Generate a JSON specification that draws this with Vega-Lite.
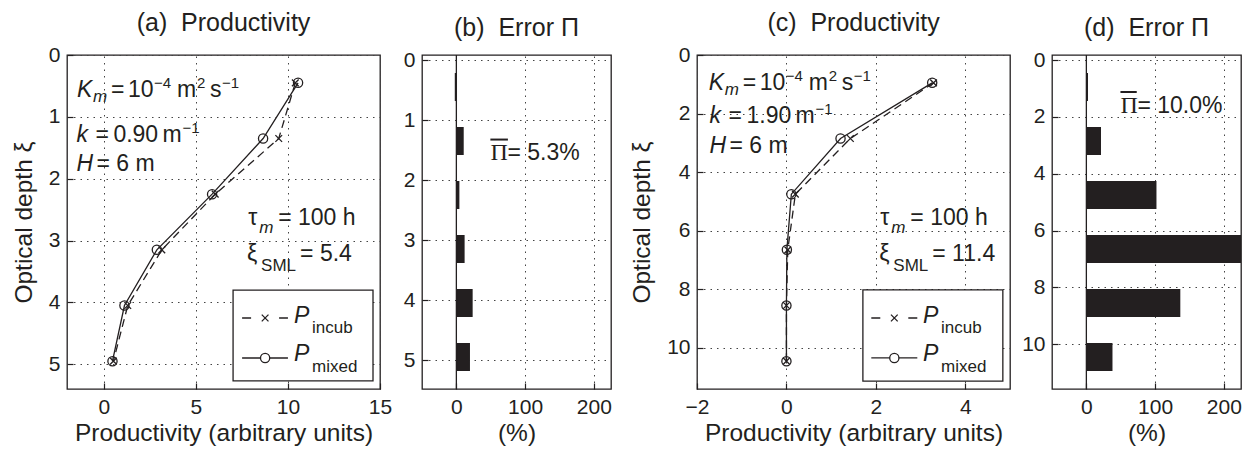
{
  "$schema": "https://vega.github.io/schema/vega-lite/v6.json",
  "padding": {"left": 10, "top": 10, "right": 0, "bottom": 0},
  "background": "white",
  "datasets": {
    "prod_a": [
      {"xi": 0.45, "P_incub": 10.4, "P_mixed": 10.55},
      {"xi": 1.35, "P_incub": 9.5, "P_mixed": 8.65},
      {"xi": 2.25, "P_incub": 6.05, "P_mixed": 5.88},
      {"xi": 3.15, "P_incub": 3.15, "P_mixed": 2.88},
      {"xi": 4.05, "P_incub": 1.3, "P_mixed": 1.12},
      {"xi": 4.95, "P_incub": 0.52, "P_mixed": 0.47}
    ],
    "err_a": [
      {"xi": 0.45, "err": -2.3},
      {"xi": 1.35, "err": 10.7},
      {"xi": 2.25, "err": 4.4},
      {"xi": 3.15, "err": 12},
      {"xi": 4.05, "err": 23.7},
      {"xi": 4.95, "err": 19.8}
    ],
    "prod_c": [
      {"xi": 0.95, "P_incub": 3.29, "P_mixed": 3.26},
      {"xi": 2.85, "P_incub": 1.43, "P_mixed": 1.21},
      {"xi": 4.75, "P_incub": 0.2, "P_mixed": 0.11},
      {"xi": 6.65, "P_incub": 0.03, "P_mixed": 0.01},
      {"xi": 8.55, "P_incub": 0.0, "P_mixed": 0.0},
      {"xi": 10.45, "P_incub": 0.0, "P_mixed": 0.0}
    ],
    "err_c": [
      {"xi": 0.95, "err": 2.4},
      {"xi": 2.85, "err": 21.3},
      {"xi": 4.75, "err": 102},
      {"xi": 6.65, "err": 240},
      {"xi": 8.55, "err": 136.7},
      {"xi": 10.45, "err": 38}
    ]
  },
  "bounds": "flush",
  "spacing": 42,
  "hconcat": [
    {
      "title": {"text": "(a)\u00a0 Productivity"},
      "width": 313,
      "height": 334,
      "data": {"name": "prod_a"},
      "layer": [
        {
          "mark": {"type": "line", "color": "#231f20", "strokeWidth": 1.3, "strokeDash": [8, 5]},
          "encoding": {
            "x": {"field": "P_incub", "type": "quantitative", "title": "Productivity (arbitrary units)", "scale": {"domain": [-2, 15], "nice": false, "zero": false}, "axis": {"values": [0, 5, 10, 15], "format": "d"}},
            "y": {"field": "xi", "type": "quantitative", "title": "Optical depth ξ", "scale": {"domain": [0, 5.4], "reverse": true, "nice": false, "zero": false}, "axis": {"values": [0, 1, 2, 3, 4, 5], "format": "d"}},
            "order": {"field": "xi"}
          }
        },
        {
          "mark": {"type": "point", "shape": "M-1,-1L1,1M-1,1L1,-1", "size": 45, "filled": false, "color": "#231f20", "strokeWidth": 1.3, "opacity": 1},
          "encoding": {
            "x": {"field": "P_incub", "type": "quantitative", "title": "Productivity (arbitrary units)"},
            "y": {"field": "xi", "type": "quantitative", "title": "Optical depth ξ"}
          }
        },
        {
          "mark": {"type": "line", "color": "#231f20", "strokeWidth": 1.3},
          "encoding": {
            "x": {"field": "P_mixed", "type": "quantitative", "title": "Productivity (arbitrary units)"},
            "y": {"field": "xi", "type": "quantitative", "title": "Optical depth ξ"},
            "order": {"field": "xi"}
          }
        },
        {
          "mark": {"type": "point", "shape": "circle", "size": 85, "filled": false, "color": "#231f20", "strokeWidth": 1.3, "opacity": 1},
          "encoding": {
            "x": {"field": "P_mixed", "type": "quantitative", "title": "Productivity (arbitrary units)"},
            "y": {"field": "xi", "type": "quantitative", "title": "Optical depth ξ"}
          }
        },
        {
          "data": {"values": [{}]},
          "layer": [
            {"mark": {"type": "text", "text": "K", "fontStyle": "italic", "fontSize": 23, "align": "left", "baseline": "alphabetic", "color": "#231f20"}, "encoding": {"x": {"datum": -1.46}, "y": {"datum": 0.68}}},
            {"mark": {"type": "text", "text": "m", "fontStyle": "italic", "fontSize": 17, "align": "left", "baseline": "alphabetic", "dx": 16, "dy": 5, "color": "#231f20"}, "encoding": {"x": {"datum": -1.46}, "y": {"datum": 0.68}}},
            {"mark": {"type": "text", "text": "=", "fontSize": 23, "align": "left", "baseline": "alphabetic", "dx": 34, "color": "#231f20"}, "encoding": {"x": {"datum": -1.46}, "y": {"datum": 0.68}}},
            {"mark": {"type": "text", "text": "10", "fontSize": 23, "align": "left", "baseline": "alphabetic", "dx": 51, "color": "#231f20"}, "encoding": {"x": {"datum": -1.46}, "y": {"datum": 0.68}}},
            {"mark": {"type": "text", "text": "−4", "fontSize": 15, "align": "left", "baseline": "alphabetic", "dx": 77, "dy": -9, "color": "#231f20"}, "encoding": {"x": {"datum": -1.46}, "y": {"datum": 0.68}}},
            {"mark": {"type": "text", "text": "m", "fontSize": 23, "align": "left", "baseline": "alphabetic", "dx": 100, "color": "#231f20"}, "encoding": {"x": {"datum": -1.46}, "y": {"datum": 0.68}}},
            {"mark": {"type": "text", "text": "2", "fontSize": 15, "align": "left", "baseline": "alphabetic", "dx": 120, "dy": -9, "color": "#231f20"}, "encoding": {"x": {"datum": -1.46}, "y": {"datum": 0.68}}},
            {"mark": {"type": "text", "text": "s", "fontSize": 23, "align": "left", "baseline": "alphabetic", "dx": 133, "color": "#231f20"}, "encoding": {"x": {"datum": -1.46}, "y": {"datum": 0.68}}},
            {"mark": {"type": "text", "text": "−1", "fontSize": 15, "align": "left", "baseline": "alphabetic", "dx": 145, "dy": -9, "color": "#231f20"}, "encoding": {"x": {"datum": -1.46}, "y": {"datum": 0.68}}},
            {"mark": {"type": "text", "text": "k", "fontStyle": "italic", "fontSize": 23, "align": "left", "baseline": "alphabetic", "color": "#231f20"}, "encoding": {"x": {"datum": -1.49}, "y": {"datum": 1.407}}},
            {"mark": {"type": "text", "text": "=", "fontSize": 23, "align": "left", "baseline": "alphabetic", "dx": 19, "color": "#231f20"}, "encoding": {"x": {"datum": -1.49}, "y": {"datum": 1.407}}},
            {"mark": {"type": "text", "text": "0.90", "fontSize": 23, "align": "left", "baseline": "alphabetic", "dx": 37, "color": "#231f20"}, "encoding": {"x": {"datum": -1.49}, "y": {"datum": 1.407}}},
            {"mark": {"type": "text", "text": "m", "fontSize": 23, "align": "left", "baseline": "alphabetic", "dx": 86, "color": "#231f20"}, "encoding": {"x": {"datum": -1.49}, "y": {"datum": 1.407}}},
            {"mark": {"type": "text", "text": "−1", "fontSize": 15, "align": "left", "baseline": "alphabetic", "dx": 106, "dy": -9, "color": "#231f20"}, "encoding": {"x": {"datum": -1.49}, "y": {"datum": 1.407}}},
            {"mark": {"type": "text", "text": "H", "fontStyle": "italic", "fontSize": 23, "align": "left", "baseline": "alphabetic", "color": "#231f20"}, "encoding": {"x": {"datum": -1.49}, "y": {"datum": 1.88}}},
            {"mark": {"type": "text", "text": "= 6 m", "fontSize": 23, "align": "left", "baseline": "alphabetic", "dx": 20, "color": "#231f20"}, "encoding": {"x": {"datum": -1.49}, "y": {"datum": 1.88}}},
            {"mark": {"type": "text", "text": "τ", "fontSize": 23, "align": "left", "baseline": "alphabetic", "color": "#231f20"}, "encoding": {"x": {"datum": 7.84}, "y": {"datum": 2.754}}},
            {"mark": {"type": "text", "text": "m", "fontStyle": "italic", "fontSize": 17, "align": "left", "baseline": "alphabetic", "dx": 11, "dy": 8, "color": "#231f20"}, "encoding": {"x": {"datum": 7.84}, "y": {"datum": 2.754}}},
            {"mark": {"type": "text", "text": "= 100 h", "fontSize": 23, "align": "left", "baseline": "alphabetic", "dx": 30, "color": "#231f20"}, "encoding": {"x": {"datum": 7.84}, "y": {"datum": 2.754}}},
            {"mark": {"type": "text", "text": "ξ", "fontSize": 23, "align": "left", "baseline": "alphabetic", "color": "#231f20"}, "encoding": {"x": {"datum": 7.78}, "y": {"datum": 3.33}}},
            {"mark": {"type": "text", "text": "SML", "fontSize": 17, "align": "left", "baseline": "alphabetic", "dx": 14, "dy": 10, "color": "#231f20"}, "encoding": {"x": {"datum": 7.78}, "y": {"datum": 3.33}}},
            {"mark": {"type": "text", "text": "= 5.4", "fontSize": 23, "align": "left", "baseline": "alphabetic", "dx": 53, "color": "#231f20"}, "encoding": {"x": {"datum": 7.78}, "y": {"datum": 3.33}}},
            {"mark": {"type": "rect", "fill": "white", "stroke": "#231f20", "strokeWidth": 1.3}, "encoding": {"x": {"datum": 7.02}, "x2": {"datum": 14.62}, "y": {"datum": 3.8}, "y2": {"datum": 5.27}}},
            {"mark": {"type": "rule", "color": "#231f20", "strokeWidth": 1.3, "strokeDash": [9, 28]}, "encoding": {"x": {"datum": 7.51}, "x2": {"datum": 10.0}, "y": {"datum": 4.252}}},
            {"mark": {"type": "point", "shape": "M-1,-1L1,1M-1,1L1,-1", "size": 45, "filled": false, "color": "#231f20", "strokeWidth": 1.3, "opacity": 1}, "encoding": {"x": {"datum": 8.76}, "y": {"datum": 4.252}}},
            {"mark": {"type": "rule", "color": "#231f20", "strokeWidth": 1.3}, "encoding": {"x": {"datum": 7.51}, "x2": {"datum": 10.0}, "y": {"datum": 4.899}}},
            {"mark": {"type": "point", "shape": "circle", "size": 85, "filled": true, "fill": "white", "stroke": "#231f20", "strokeWidth": 1.3, "opacity": 1}, "encoding": {"x": {"datum": 8.76}, "y": {"datum": 4.899}}},
            {"mark": {"type": "text", "text": "P", "fontStyle": "italic", "fontSize": 23, "align": "left", "baseline": "alphabetic", "color": "#231f20"}, "encoding": {"x": {"datum": 10.33}, "y": {"datum": 4.333}}},
            {"mark": {"type": "text", "text": "incub", "fontSize": 17, "align": "left", "baseline": "alphabetic", "dx": 18, "dy": 10, "color": "#231f20"}, "encoding": {"x": {"datum": 10.33}, "y": {"datum": 4.333}}},
            {"mark": {"type": "text", "text": "P", "fontStyle": "italic", "fontSize": 23, "align": "left", "baseline": "alphabetic", "color": "#231f20"}, "encoding": {"x": {"datum": 10.33}, "y": {"datum": 4.947}}},
            {"mark": {"type": "text", "text": "mixed", "fontSize": 17, "align": "left", "baseline": "alphabetic", "dx": 18, "dy": 11, "color": "#231f20"}, "encoding": {"x": {"datum": 10.33}, "y": {"datum": 4.947}}}
          ]
        }
      ]
    },
    {
      "title": {"text": "(b)\u00a0 Error Π"},
      "width": 189,
      "height": 334,
      "data": {"name": "err_a"},
      "layer": [
        {
          "mark": {"type": "bar", "orient": "horizontal", "height": 28, "color": "#231f20", "clip": true},
          "encoding": {
            "x": {"field": "err", "type": "quantitative", "title": "(%)", "scale": {"domain": [-50, 225], "nice": false, "zero": false}, "axis": {"values": [0, 100, 200], "format": "d"}},
            "x2": {"datum": 0},
            "y": {"field": "xi", "type": "quantitative", "title": null, "scale": {"domain": [0, 5.4], "reverse": true, "nice": false, "zero": false}, "axis": {"values": [0, 1, 2, 3, 4, 5], "format": "d"}}
          }
        },
        {
          "data": {"values": [{}]},
          "layer": [
            {"mark": {"type": "rule", "color": "#231f20", "strokeWidth": 1.3}, "encoding": {"x": {"datum": 0}}},
            {"mark": {"type": "rule", "color": "#231f20", "strokeWidth": 2}, "encoding": {"x": {"datum": 49.5}, "x2": {"datum": 75}, "y": {"datum": 1.326}}},
            {"mark": {"type": "text", "text": "Π", "font": "Liberation Serif", "fontSize": 24, "align": "left", "baseline": "alphabetic", "color": "#231f20"}, "encoding": {"x": {"datum": 49.5}, "y": {"datum": 1.665}}},
            {"mark": {"type": "text", "text": "= 5.3%", "fontSize": 23, "align": "left", "baseline": "alphabetic", "dx": 17, "color": "#231f20"}, "encoding": {"x": {"datum": 49.5}, "y": {"datum": 1.665}}}
          ]
        }
      ]
    },
    {
      "width": 2,
      "height": 334,
      "data": {"values": [{}]},
      "mark": {"type": "point", "opacity": 0},
      "encoding": {},
      "view": {"stroke": null}
    },
    {
      "title": {"text": "(c)\u00a0 Productivity"},
      "width": 313,
      "height": 334,
      "data": {"name": "prod_c"},
      "layer": [
        {
          "mark": {"type": "line", "color": "#231f20", "strokeWidth": 1.3, "strokeDash": [8, 5]},
          "encoding": {
            "x": {"field": "P_incub", "type": "quantitative", "title": "Productivity (arbitrary units)", "scale": {"domain": [-2, 5], "nice": false, "zero": false}, "axis": {"values": [-2, 0, 2, 4], "format": "d"}},
            "y": {"field": "xi", "type": "quantitative", "title": "Optical depth ξ", "scale": {"domain": [0, 11.4], "reverse": true, "nice": false, "zero": false}, "axis": {"values": [0, 2, 4, 6, 8, 10], "format": "d"}},
            "order": {"field": "xi"}
          }
        },
        {
          "mark": {"type": "point", "shape": "M-1,-1L1,1M-1,1L1,-1", "size": 45, "filled": false, "color": "#231f20", "strokeWidth": 1.3, "opacity": 1},
          "encoding": {
            "x": {"field": "P_incub", "type": "quantitative", "title": "Productivity (arbitrary units)"},
            "y": {"field": "xi", "type": "quantitative", "title": "Optical depth ξ"}
          }
        },
        {
          "mark": {"type": "line", "color": "#231f20", "strokeWidth": 1.3},
          "encoding": {
            "x": {"field": "P_mixed", "type": "quantitative", "title": "Productivity (arbitrary units)"},
            "y": {"field": "xi", "type": "quantitative", "title": "Optical depth ξ"},
            "order": {"field": "xi"}
          }
        },
        {
          "mark": {"type": "point", "shape": "circle", "size": 85, "filled": false, "color": "#231f20", "strokeWidth": 1.3, "opacity": 1},
          "encoding": {
            "x": {"field": "P_mixed", "type": "quantitative", "title": "Productivity (arbitrary units)"},
            "y": {"field": "xi", "type": "quantitative", "title": "Optical depth ξ"}
          }
        },
        {
          "data": {"values": [{}]},
          "layer": [
            {"mark": {"type": "text", "text": "K", "fontStyle": "italic", "fontSize": 23, "align": "left", "baseline": "alphabetic", "color": "#231f20"}, "encoding": {"x": {"datum": -1.74}, "y": {"datum": 1.195}}},
            {"mark": {"type": "text", "text": "m", "fontStyle": "italic", "fontSize": 17, "align": "left", "baseline": "alphabetic", "dx": 16, "dy": 5, "color": "#231f20"}, "encoding": {"x": {"datum": -1.74}, "y": {"datum": 1.195}}},
            {"mark": {"type": "text", "text": "=", "fontSize": 23, "align": "left", "baseline": "alphabetic", "dx": 34, "color": "#231f20"}, "encoding": {"x": {"datum": -1.74}, "y": {"datum": 1.195}}},
            {"mark": {"type": "text", "text": "10", "fontSize": 23, "align": "left", "baseline": "alphabetic", "dx": 51, "color": "#231f20"}, "encoding": {"x": {"datum": -1.74}, "y": {"datum": 1.195}}},
            {"mark": {"type": "text", "text": "−4", "fontSize": 15, "align": "left", "baseline": "alphabetic", "dx": 77, "dy": -9, "color": "#231f20"}, "encoding": {"x": {"datum": -1.74}, "y": {"datum": 1.195}}},
            {"mark": {"type": "text", "text": "m", "fontSize": 23, "align": "left", "baseline": "alphabetic", "dx": 100, "color": "#231f20"}, "encoding": {"x": {"datum": -1.74}, "y": {"datum": 1.195}}},
            {"mark": {"type": "text", "text": "2", "fontSize": 15, "align": "left", "baseline": "alphabetic", "dx": 120, "dy": -9, "color": "#231f20"}, "encoding": {"x": {"datum": -1.74}, "y": {"datum": 1.195}}},
            {"mark": {"type": "text", "text": "s", "fontSize": 23, "align": "left", "baseline": "alphabetic", "dx": 133, "color": "#231f20"}, "encoding": {"x": {"datum": -1.74}, "y": {"datum": 1.195}}},
            {"mark": {"type": "text", "text": "−1", "fontSize": 15, "align": "left", "baseline": "alphabetic", "dx": 145, "dy": -9, "color": "#231f20"}, "encoding": {"x": {"datum": -1.74}, "y": {"datum": 1.195}}},
            {"mark": {"type": "text", "text": "k", "fontStyle": "italic", "fontSize": 23, "align": "left", "baseline": "alphabetic", "color": "#231f20"}, "encoding": {"x": {"datum": -1.72}, "y": {"datum": 2.338}}},
            {"mark": {"type": "text", "text": "=", "fontSize": 23, "align": "left", "baseline": "alphabetic", "dx": 19, "color": "#231f20"}, "encoding": {"x": {"datum": -1.72}, "y": {"datum": 2.338}}},
            {"mark": {"type": "text", "text": "1.90", "fontSize": 23, "align": "left", "baseline": "alphabetic", "dx": 37, "color": "#231f20"}, "encoding": {"x": {"datum": -1.72}, "y": {"datum": 2.338}}},
            {"mark": {"type": "text", "text": "m", "fontSize": 23, "align": "left", "baseline": "alphabetic", "dx": 86, "color": "#231f20"}, "encoding": {"x": {"datum": -1.72}, "y": {"datum": 2.338}}},
            {"mark": {"type": "text", "text": "−1", "fontSize": 15, "align": "left", "baseline": "alphabetic", "dx": 106, "dy": -9, "color": "#231f20"}, "encoding": {"x": {"datum": -1.72}, "y": {"datum": 2.338}}},
            {"mark": {"type": "text", "text": "H", "fontStyle": "italic", "fontSize": 23, "align": "left", "baseline": "alphabetic", "color": "#231f20"}, "encoding": {"x": {"datum": -1.72}, "y": {"datum": 3.345}}},
            {"mark": {"type": "text", "text": "= 6 m", "fontSize": 23, "align": "left", "baseline": "alphabetic", "dx": 20, "color": "#231f20"}, "encoding": {"x": {"datum": -1.72}, "y": {"datum": 3.345}}},
            {"mark": {"type": "text", "text": "τ", "fontSize": 23, "align": "left", "baseline": "alphabetic", "color": "#231f20"}, "encoding": {"x": {"datum": 2.1}, "y": {"datum": 5.79}}},
            {"mark": {"type": "text", "text": "m", "fontStyle": "italic", "fontSize": 17, "align": "left", "baseline": "alphabetic", "dx": 11, "dy": 8, "color": "#231f20"}, "encoding": {"x": {"datum": 2.1}, "y": {"datum": 5.79}}},
            {"mark": {"type": "text", "text": "= 100 h", "fontSize": 23, "align": "left", "baseline": "alphabetic", "dx": 30, "color": "#231f20"}, "encoding": {"x": {"datum": 2.1}, "y": {"datum": 5.79}}},
            {"mark": {"type": "text", "text": "ξ", "fontSize": 23, "align": "left", "baseline": "alphabetic", "color": "#231f20"}, "encoding": {"x": {"datum": 2.077}, "y": {"datum": 7.04}}},
            {"mark": {"type": "text", "text": "SML", "fontSize": 17, "align": "left", "baseline": "alphabetic", "dx": 14, "dy": 10, "color": "#231f20"}, "encoding": {"x": {"datum": 2.077}, "y": {"datum": 7.04}}},
            {"mark": {"type": "text", "text": "= 11.4", "fontSize": 23, "align": "left", "baseline": "alphabetic", "dx": 53, "color": "#231f20"}, "encoding": {"x": {"datum": 2.077}, "y": {"datum": 7.04}}},
            {"mark": {"type": "rect", "fill": "white", "stroke": "#231f20", "strokeWidth": 1.3}, "encoding": {"x": {"datum": 1.71}, "x2": {"datum": 4.84}, "y": {"datum": 8.02}, "y2": {"datum": 11.13}}},
            {"mark": {"type": "rule", "color": "#231f20", "strokeWidth": 1.3, "strokeDash": [9, 28]}, "encoding": {"x": {"datum": 1.898}, "x2": {"datum": 2.927}, "y": {"datum": 8.976}}},
            {"mark": {"type": "point", "shape": "M-1,-1L1,1M-1,1L1,-1", "size": 45, "filled": false, "color": "#231f20", "strokeWidth": 1.3, "opacity": 1}, "encoding": {"x": {"datum": 2.413}, "y": {"datum": 8.976}}},
            {"mark": {"type": "rule", "color": "#231f20", "strokeWidth": 1.3}, "encoding": {"x": {"datum": 1.898}, "x2": {"datum": 2.927}, "y": {"datum": 10.34}}},
            {"mark": {"type": "point", "shape": "circle", "size": 85, "filled": true, "fill": "white", "stroke": "#231f20", "strokeWidth": 1.3, "opacity": 1}, "encoding": {"x": {"datum": 2.413}, "y": {"datum": 10.34}}},
            {"mark": {"type": "text", "text": "P", "fontStyle": "italic", "fontSize": 23, "align": "left", "baseline": "alphabetic", "color": "#231f20"}, "encoding": {"x": {"datum": 3.055}, "y": {"datum": 9.147}}},
            {"mark": {"type": "text", "text": "incub", "fontSize": 17, "align": "left", "baseline": "alphabetic", "dx": 18, "dy": 10, "color": "#231f20"}, "encoding": {"x": {"datum": 3.055}, "y": {"datum": 9.147}}},
            {"mark": {"type": "text", "text": "P", "fontStyle": "italic", "fontSize": 23, "align": "left", "baseline": "alphabetic", "color": "#231f20"}, "encoding": {"x": {"datum": 3.055}, "y": {"datum": 10.44}}},
            {"mark": {"type": "text", "text": "mixed", "fontSize": 17, "align": "left", "baseline": "alphabetic", "dx": 18, "dy": 11, "color": "#231f20"}, "encoding": {"x": {"datum": 3.055}, "y": {"datum": 10.44}}}
          ]
        }
      ]
    },
    {
      "title": {"text": "(d)\u00a0 Error Π"},
      "width": 189,
      "height": 334,
      "data": {"name": "err_c"},
      "layer": [
        {
          "mark": {"type": "bar", "orient": "horizontal", "height": 28, "color": "#231f20", "clip": true},
          "encoding": {
            "x": {"field": "err", "type": "quantitative", "title": "(%)", "scale": {"domain": [-50, 225], "nice": false, "zero": false}, "axis": {"values": [0, 100, 200], "format": "d"}},
            "x2": {"datum": 0},
            "y": {"field": "xi", "type": "quantitative", "title": null, "scale": {"domain": [0, 11.4], "reverse": true, "nice": false, "zero": false}, "axis": {"values": [0, 2, 4, 6, 8, 10], "format": "d"}}
          }
        },
        {
          "data": {"values": [{}]},
          "layer": [
            {"mark": {"type": "rule", "color": "#231f20", "strokeWidth": 1.3}, "encoding": {"x": {"datum": 0}}},
            {"mark": {"type": "rule", "color": "#231f20", "strokeWidth": 2}, "encoding": {"x": {"datum": 49.6}, "x2": {"datum": 73.3}, "y": {"datum": 1.126}}},
            {"mark": {"type": "text", "text": "Π", "font": "Liberation Serif", "fontSize": 24, "align": "left", "baseline": "alphabetic", "color": "#231f20"}, "encoding": {"x": {"datum": 49.6}, "y": {"datum": 1.867}}},
            {"mark": {"type": "text", "text": "= 10.0%", "fontSize": 23, "align": "left", "baseline": "alphabetic", "dx": 17, "color": "#231f20"}, "encoding": {"x": {"datum": 49.6}, "y": {"datum": 1.867}}}
          ]
        }
      ]
    }
  ],
  "config": {
    "font": "Liberation Sans",
    "view": {"stroke": "#231f20", "strokeWidth": 1.3},
    "axis": {
      "domain": false,
      "ticks": true,
      "tickSize": -6,
      "tickColor": "#231f20",
      "tickWidth": 1.2,
      "grid": true,
      "gridDash": [1.5, 5],
      "gridColor": "#444444",
      "gridWidth": 1,
      "labelFont": "Liberation Sans",
      "labelFontSize": 21,
      "labelColor": "#231f20",
      "labelPadding": 13,
      "labelFlush": false,
      "labelOverlap": false,
      "titleFont": "Liberation Sans",
      "titleFontSize": 24.5,
      "titleFontWeight": "normal",
      "titleColor": "#231f20"
    },
    "axisX": {"labelPadding": 13, "titlePadding": 4},
    "axisY": {"titlePadding": 12},
    "title": {"font": "Liberation Sans", "fontSize": 25, "fontWeight": "normal", "color": "#231f20", "offset": 8}
  }
}
